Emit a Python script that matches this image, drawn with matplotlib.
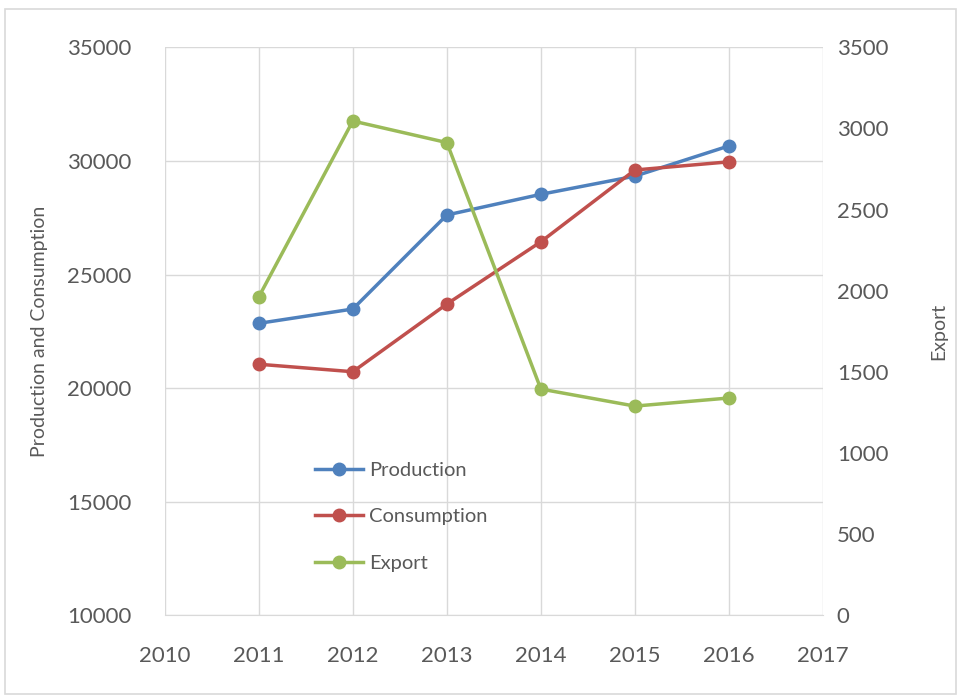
import matplotlib
matplotlib.use("Agg")
import matplotlib.pyplot as plt
from matplotlib.patches import Rectangle

years = [2011, 2012, 2013, 2014, 2015, 2016]
production = [22850, 23480, 27620, 28530, 29330, 30660]
consumption = [21050, 20720, 23700, 26440, 29600, 29960]
export = [1962, 3046, 2913, 1394, 1289, 1339]
x_ticks = [2010, 2011, 2012, 2013, 2014, 2015, 2016, 2017]
left_ticks = [10000, 15000, 20000, 25000, 30000, 35000]
right_ticks = [0, 500, 1000, 1500, 2000, 2500, 3000, 3500]

plt.rcParams['font.family'] = ['Lato', 'DejaVu Sans']
txt = '#595959'
grid_c = '#d9d9d9'

fig = plt.figure(figsize=(9.58, 6.96), dpi=100)
fig.patches.append(Rectangle((0.005, 0.003), 0.993, 0.984, transform=fig.transFigure,
                             fill=False, edgecolor='#d9d9d9', linewidth=1.2))
ax = fig.add_axes([0.172, 0.116, 0.687, 0.816])
ax2 = ax.twinx()

ax.set_xlim(2010, 2017)
ax.set_ylim(10000, 35000)
ax2.set_ylim(0, 3500)
ax.set_xticks(x_ticks)
ax.set_yticks(left_ticks)
ax2.set_yticks(right_ticks)
ax.grid(True, color=grid_c, linewidth=1)
ax.set_axisbelow(True)

for a in (ax, ax2):
    for s in a.spines.values():
        s.set_visible(False)
    a.tick_params(length=0, labelsize=16, labelcolor=txt)
ax.tick_params(axis='y', pad=24)
ax.tick_params(axis='x', pad=22)
ax2.tick_params(axis='y', pad=10)
ax.spines['bottom'].set_visible(True)
ax.spines['bottom'].set_color(grid_c)

l1, = ax.plot(years, production, color='#4F81BD', lw=2.5, marker='o', ms=9, label='Production')
l2, = ax.plot(years, consumption, color='#C0504D', lw=2.5, marker='o', ms=9, label='Consumption')
l3, = ax2.plot(years, export, color='#9BBB59', lw=2.5, marker='o', ms=9, label='Export')

ax.set_ylabel('Production and Consumption', fontsize=14, color=txt, labelpad=14)
ax2.set_ylabel('Export', fontsize=14, color=txt, labelpad=30)

leg = ax2.legend(handles=[l1, l2, l3], loc='upper left', bbox_to_anchor=(0.2, 0.302),
                 frameon=False, fontsize=14.5, labelspacing=1.45, handlelength=2.4,
                 handletextpad=0.3)
for t in leg.get_texts():
    t.set_color(txt)

fig.savefig('out.png', dpi=100)
